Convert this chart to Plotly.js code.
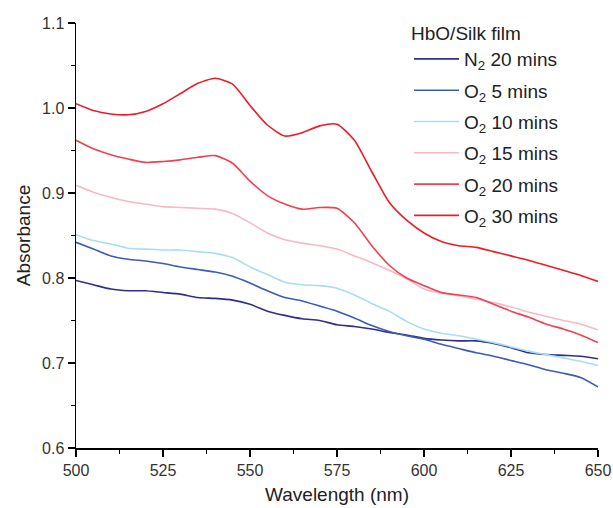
<!DOCTYPE html>
<html>
<head>
<meta charset="utf-8">
<script src="https://cdn.plot.ly/plotly-3.0.1.min.js"></script>
<style>html,body{margin:0;padding:0;background:#fff;}#chart{width:613px;height:508px;}</style>
</head>
<body>
<div id="chart"></div>
<script>
const wavelength = [500,505,510,515,520,525,530,535,540,545,550,555,560,565,570,575,580,585,590,595,600,605,610,615,620,625,630,635,640,645,650];
const seriesNames = ["N<sub>2</sub> 20 mins","O<sub>2</sub> 5 mins","O<sub>2</sub> 10 mins","O<sub>2</sub> 15 mins","O<sub>2</sub> 20 mins","O<sub>2</sub> 30 mins"];
const n2_20 = [0.797,0.792,0.787,0.785,0.785,0.783,0.781,0.777,0.776,0.774,0.769,0.761,0.756,0.752,0.750,0.745,0.743,0.740,0.736,0.733,0.729,0.727,0.726,0.726,0.723,0.718,0.712,0.710,0.709,0.708,0.705];
const o2_5 = [0.842,0.834,0.826,0.822,0.820,0.817,0.813,0.810,0.807,0.802,0.794,0.785,0.777,0.773,0.767,0.761,0.753,0.744,0.737,0.732,0.728,0.722,0.717,0.712,0.708,0.703,0.698,0.692,0.688,0.683,0.672];
const o2_10 = [0.851,0.844,0.840,0.835,0.834,0.833,0.833,0.831,0.829,0.824,0.813,0.804,0.795,0.792,0.791,0.788,0.780,0.770,0.761,0.749,0.740,0.735,0.732,0.728,0.724,0.719,0.714,0.710,0.706,0.702,0.697];
const o2_15 = [0.909,0.901,0.895,0.890,0.887,0.884,0.883,0.882,0.881,0.876,0.865,0.853,0.845,0.841,0.838,0.834,0.826,0.818,0.809,0.799,0.787,0.782,0.779,0.775,0.771,0.766,0.760,0.755,0.750,0.746,0.739];
const o2_20 = [0.962,0.952,0.945,0.940,0.936,0.937,0.939,0.942,0.944,0.935,0.914,0.897,0.887,0.881,0.883,0.882,0.865,0.838,0.815,0.800,0.791,0.783,0.780,0.777,0.769,0.761,0.754,0.746,0.740,0.733,0.724];
const o2_30 = [1.005,0.997,0.993,0.992,0.996,1.005,1.017,1.029,1.035,1.028,1.003,0.980,0.967,0.971,0.979,0.981,0.962,0.925,0.889,0.868,0.853,0.843,0.838,0.836,0.831,0.826,0.821,0.815,0.809,0.803,0.796];
const colors = ["#2e2f8c","#3d5bb5","#a9dcf5","#f6b9c5","#f2404e","#ee1c25"];

const allY = [n2_20,o2_5,o2_10,o2_15,o2_20,o2_30];
const traces = allY.map((y,i)=>({
  x: wavelength, y: y, name: seriesNames[i], type: 'scatter', mode: 'lines',
  legendgroup: 'g' + i,
  line: {color: colors[i], width: 1.6, shape: 'spline', smoothing: 0.6}
}));

const layout = {
  width: 613, height: 508,
  margin: {l: 76, r: 15, t: 23, b: 60},
  paper_bgcolor: '#fff', plot_bgcolor: '#fff',
  font: {family: 'Liberation Sans, Arial, sans-serif', color: '#222'},
  showlegend: true,
  legend: {
    x: 0.638, y: 1.018, xanchor: 'left', yanchor: 'top',
    title: {text: 'HbO/Silk film', font: {size: 19, color: '#222'}},
    font: {size: 19, color: '#222'},
    itemwidth: 45,
    bgcolor: 'rgba(0,0,0,0)', tracegroupgap: 3.6
  },
  xaxis: {
    range: [500, 650], tickmode: 'array', tickvals: [500,525,550,575,600,625,650],
    ticks: 'outside', ticklen: 7, tickwidth: 1.5, tickcolor: '#000',
    showline: true, linecolor: '#000', linewidth: 1.5, showgrid: false, zeroline: false,
    minor: {tickmode: 'linear', tick0: 512.5, dtick: 25, ticks: 'outside', ticklen: 4, tickwidth: 1.5, tickcolor: '#000', showgrid: false},
    tickfont: {size: 16, color: '#333'},
    title: {text: 'Wavelength (nm)', font: {size: 19, color: '#222'}, standoff: 10}
  },
  yaxis: {
    range: [0.6, 1.1], tickmode: 'array', tickvals: [0.6,0.7,0.8,0.9,1.0,1.1], ticktext: ['0.6','0.7','0.8','0.9','1.0','1.1'],
    ticks: 'outside', ticklen: 7, tickwidth: 1.5, tickcolor: '#000',
    showline: true, linecolor: '#000', linewidth: 1.5, showgrid: false, zeroline: false,
    minor: {tickmode: 'linear', tick0: 0.65, dtick: 0.1, ticks: 'outside', ticklen: 4, tickwidth: 1.5, tickcolor: '#000', showgrid: false},
    tickfont: {size: 16, color: '#333'},
    title: {text: 'Absorbance', font: {size: 19, color: '#222'}, standoff: 6}
  }
};

Plotly.newPlot('chart', traces, layout, {displayModeBar: false, staticPlot: true});
</script>
</body>
</html>
